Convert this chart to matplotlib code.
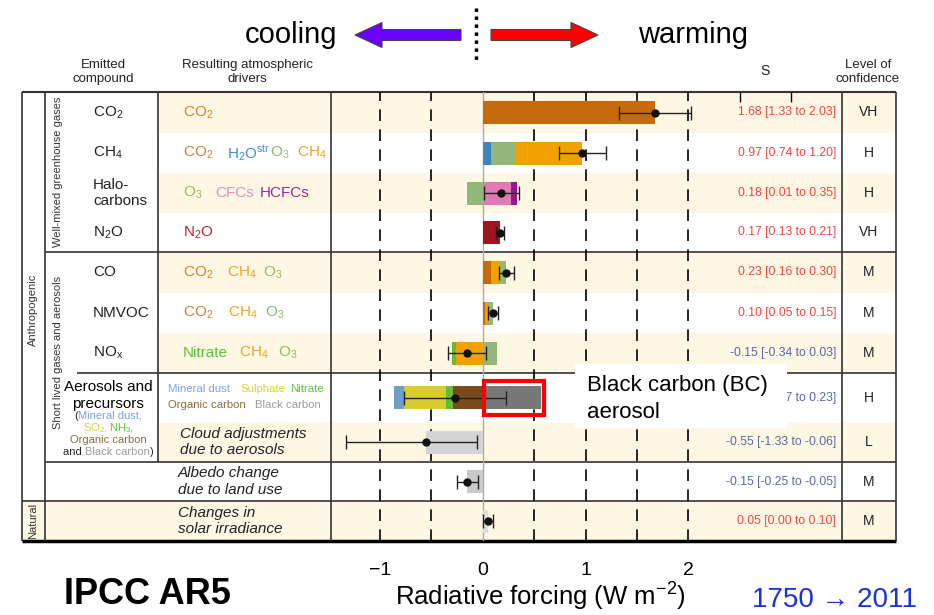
import numpy as np
import matplotlib.pyplot as plt
from matplotlib.patches import Rectangle, FancyArrow

plt.rcParams['font.family'] = ['Liberation Sans', 'DejaVu Sans']
plt.rcParams['mathtext.fontset'] = 'custom'
plt.rcParams['mathtext.rm'] = 'Liberation Sans'
plt.rcParams['mathtext.it'] = 'Liberation Sans:italic'
plt.rcParams['mathtext.bf'] = 'Liberation Sans:bold'
plt.rcParams['mathtext.default'] = 'regular'

# ---- data (W m-2, 1750 -> 2011) ----
emitted = ["CO$_2$", "CH$_4$", "Halo-\ncarbons", "N$_2$O", "CO", "NMVOC", "NO$_\\mathrm{x}$"]
best = np.array([1.68, 0.97, 0.18, 0.17, 0.23, 0.10, -0.15, -0.27, -0.55, -0.15, 0.05])
low = np.array([1.33, 0.74, 0.01, 0.13, 0.16, 0.05, -0.34, -0.77, -1.33, -0.25, 0.00])
high = np.array([2.03, 1.20, 0.35, 0.21, 0.30, 0.15, 0.03, 0.23, -0.06, -0.05, 0.10])
confidence = ["VH", "H", "H", "VH", "M", "M", "M", "H", "L", "M", "M"]

# components stacked outwards from zero
co2_parts = [("CO2", 1.68)]
ch4_parts = [("CO2", 0.015), ("H2Ostr", 0.07), ("O3", 0.24), ("CH4", 0.645)]
halo_parts = [("O3", -0.15), ("CFCs", 0.275), ("HCFCs", 0.055)]
n2o_parts = [("N2O", 0.17)]
co_parts = [("CO2", 0.085), ("CH4", 0.075), ("O3", 0.07)]
nmvoc_parts = [("CO2", 0.025), ("CH4", 0.025), ("O3", 0.05)]
nox_parts = [("CH4", -0.255), ("Nitrate", -0.045), ("O3", 0.135)]
aerosol_parts = [("Organic carbon", -0.285), ("Nitrate", -0.075), ("Sulphate", -0.405),
                 ("Mineral dust", -0.10), ("Black carbon", 0.567)]
cloud_parts = [("Cloud", -0.55)]
albedo_parts = [("Albedo", -0.15)]
solar_parts = [("Solar", 0.05)]
parts = [co2_parts, ch4_parts, halo_parts, n2o_parts, co_parts, nmvoc_parts,
         nox_parts, aerosol_parts, cloud_parts, albedo_parts, solar_parts]

bar_colors = {
    "CO2": "#c66a10", "H2Ostr": "#3a87c0", "O3": "#93b679", "CH4": "#f2a100",
    "CFCs": "#e07ab4", "HCFCs": "#98168c", "N2O": "#a3131d", "Nitrate": "#66ba35",
    "Mineral dust": "#6e9ccb", "Sulphate": "#d7cd2c", "Organic carbon": "#7a4a1b",
    "Black carbon": "#787878", "Cloud": "#d4d4d4", "Albedo": "#c9c9c9", "Solar": "#dcdcdc",
}
label_colors = {
    "CO2": "#d4822e", "H2Ostr": "#3f8fd2", "O3": "#8dbb6e", "CH4": "#f5a21e",
    "CFCs": "#ec8cc3", "HCFCs": "#a02896", "N2O": "#b52630", "Nitrate": "#5cbf3c",
    "Mineral dust": "#7aa3d6", "Sulphate": "#d6d232", "Organic carbon": "#8f6a3c",
    "Black carbon": "#9c9c9c",
}
label_text = {
    "CO2": "CO$_2$", "H2Ostr": "H$_2$O$^{str}$", "O3": "O$_3$", "CH4": "CH$_4$",
    "CFCs": "CFCs", "HCFCs": "HCFCs", "N2O": "N$_2$O", "Nitrate": "Nitrate",
    "Mineral dust": "Mineral dust", "Sulphate": "Sulphate",
    "Organic carbon": "Organic carbon", "Black carbon": "Black carbon",
}

# ---- layout (pixels) ----
W, H = 934, 615
edges = [92, 133, 173, 213, 252, 293, 333, 373, 422, 462, 501, 541]
centers = [(a + b) / 2 for a, b in zip(edges[:-1], edges[1:])]
zero_px, unit_px = 482.7, 102.8
plot_l, plot_r = 331, 842

driver_x = [
    [("CO2", 183)],
    [("CO2", 183), ("H2Ostr", 227), ("O3", 270), ("CH4", 297)],
    [("O3", 183), ("CFCs", 215), ("HCFCs", 260)],
    [("N2O", 183)],
    [("CO2", 183), ("CH4", 227), ("O3", 263)],
    [("CO2", 183), ("CH4", 228), ("O3", 265)],
    [("Nitrate", 183), ("CH4", 239), ("O3", 278)],
]

fig = plt.figure(figsize=(W / 100, H / 100), dpi=100)
bg = fig.add_axes([0, 0, 1, 1], zorder=0)
bg.set_xlim(0, W)
bg.set_ylim(H, 0)
bg.axis('off')
renderer = fig.canvas.get_renderer()


def draw_pieces(ax, x, y, pieces, size, ha='center', **kw):
    texts = []
    widths = []
    for s, c in pieces:
        t = ax.text(0, y, s, color=c, fontsize=size, va='center', ha='left', **kw)
        texts.append(t)
        widths.append(t.get_window_extent(renderer).width)
    start = x - sum(widths) / 2 if ha == 'center' else x
    for t, w in zip(texts, widths):
        t.set_x(start)
        start += w


# shading
for i in [0, 2, 4, 6, 8, 10]:
    x0 = 22 if i == 10 else 158
    bg.add_patch(Rectangle((x0, edges[i]), 896 - x0, edges[i + 1] - edges[i],
                           fc='#fdf7e3', ec='none', zorder=0))

# table lines
lc = '#333333'
bg.hlines(92, 22, 896, color=lc, lw=1.5)
bg.hlines(541, 22, 896, color='k', lw=2.5)
bg.hlines(252, 45, 896, color=lc, lw=1.2)
bg.hlines(373, 77, 896, color=lc, lw=1.2)
bg.hlines(462, 45, 896, color=lc, lw=1.2)
bg.hlines(501, 22, 896, color=lc, lw=1.2)
for x in [22, 45, 331, 842, 896]:
    bg.vlines(x, 92, 541, color=lc, lw=1.2)
bg.vlines(158, 92, 462, color=lc, lw=1.2)

# headers
hdr = dict(fontsize=9.5, ha='center', va='center', color='#222222', linespacing=1.3)
bg.text(103, 72, "Emitted\ncompound", **hdr)
bg.text(247, 72, "Resulting atmospheric\ndrivers", **hdr)
bg.text(765, 71, "S", fontsize=10, ha='center', va='center', color='#222222')
bg.text(868, 72, "Level of\nconfidence", **hdr)

# side labels
side = dict(fontsize=8, rotation=90, ha='center', va='center', color='#333333')
bg.text(33, 310, "Anthropogenic", **side)
bg.text(33, 521, "Natural", **side)
bg.text(58, 172, "Well-mixed greenhouse gases", **side)
bg.text(58, 352, "Short lived gases and aerosols", **side)

# emitted compounds
for i, name in enumerate(emitted):
    bg.text(93, centers[i], name, fontsize=11, ha='left', va='center',
            color='#222222', linespacing=1.15)
bg.text(108, 387, "Aerosols and", fontsize=11, ha='center', va='center')
bg.text(108, 404, "precursors", fontsize=11, ha='center', va='center')
draw_pieces(bg, 108, 416, [("(", "#222222"), ("Mineral dust,", label_colors["Mineral dust"])], 8)
draw_pieces(bg, 108, 428, [("SO$_2$, ", label_colors["Sulphate"]), ("NH$_3$,", label_colors["Nitrate"])], 8)
draw_pieces(bg, 108, 440, [("Organic carbon", label_colors["Organic carbon"])], 8)
draw_pieces(bg, 108, 452, [("and ", "#222222"), ("Black carbon", label_colors["Black carbon"]),
                           (")", "#222222")], 8)

# drivers
for i, row in enumerate(driver_x):
    for key, x in row:
        bg.text(x, centers[i], label_text[key], fontsize=11, ha='left', va='center',
                color=label_colors[key])
for key, x in [("Mineral dust", 168), ("Sulphate", 240), ("Nitrate", 290)]:
    bg.text(x, 389, label_text[key], fontsize=8.2, ha='left', va='center', color=label_colors[key])
for key, x in [("Organic carbon", 168), ("Black carbon", 255)]:
    bg.text(x, 405, label_text[key], fontsize=8.2, ha='left', va='center', color=label_colors[key])
ital = dict(fontsize=11, style='italic', ha='left', va='center', color='#222222', linespacing=1.2)
bg.text(180, centers[8], "Cloud adjustments\ndue to aerosols", **ital)
bg.text(178, centers[9], "Albedo change\ndue to land use", **ital)
bg.text(178, centers[10], "Changes in\nsolar irradiance", **ital)

# values and confidence
for i in range(len(best)):
    col = '#f04545' if best[i] > 0 else '#5a68a8'
    bg.text(836, centers[i], f"{best[i]:.2f} [{low[i]:.2f} to {high[i]:.2f}]",
            fontsize=8.8, ha='right', va='center', color=col)
    bg.text(869, centers[i], confidence[i], fontsize=10, ha='center', va='center', color='#222222')

# top arrows
bg.text(291, 35, "cooling", fontsize=21, ha='center', va='center')
bg.text(693, 35, "warming", fontsize=21, ha='center', va='center')
bg.add_patch(FancyArrow(461, 35, -106, 0, width=11, head_width=25, head_length=27,
                        length_includes_head=True, fc='#6a00ff', ec='#444444', lw=0.8))
bg.add_patch(FancyArrow(491, 35, 107, 0, width=11, head_width=25, head_length=27,
                        length_includes_head=True, fc='#ff0000', ec='#444444', lw=0.8))
bg.plot([476, 476], [8, 60], color='k', lw=2.5, ls=(0, (1, 1.3)))

# bottom texts
bg.text(147, 594, "IPCC AR5", fontsize=26, fontweight='bold', ha='center', va='center')
bg.text(540, 597, "Radiative forcing (W m$^{-2}$)", fontsize=18.5, ha='center', va='center')
bg.text(835, 600, "1750 → 2011", fontsize=20, ha='center', va='center', color='#1a2fe0')

# ---- bar chart ----
ax = fig.add_axes([plot_l / W, (H - 541) / H, (plot_r - plot_l) / W, (541 - 92) / H], zorder=1)
ax.set_facecolor('none')
ax.set_xlim((plot_l - zero_px) / unit_px, (plot_r - zero_px) / unit_px)
ax.set_ylim(541, 92)
for s in ax.spines.values():
    s.set_visible(False)

for g in [-1, -0.5, 0.5, 1, 1.5, 2]:
    ax.axvline(g, color='k', lw=1.2, ls=(0, (7, 5)), zorder=1)
ax.axvline(0, color='#aaaaaa', lw=1, zorder=1)

for i, row in enumerate(parts):
    pos, neg = 0.0, 0.0
    for name, v in row:
        if v >= 0:
            left = pos
            pos += v
        else:
            left = neg + v
            neg += v
        ax.barh(centers[i], abs(v), left=left, height=23, color=bar_colors[name], lw=0, zorder=2)

ax.errorbar(best, centers, xerr=[best - low, high - best], fmt='o', ms=5, color='#111111',
            ecolor='#222222', elinewidth=1, capsize=5, capthick=1, zorder=4)

bc = aerosol_parts[-1][1]
ax.add_patch(Rectangle((0.01, centers[7] - 17), bc + 0.02, 34, fill=False,
                       ec='#ff0000', lw=3, zorder=5))

ax.set_xticks([-1, 0, 1, 2])
ax.set_xticklabels(['−1', '0', '1', '2'], fontsize=14)
ax.tick_params(axis='x', length=0, pad=15)
ax.set_yticks([])

sec = ax.secondary_xaxis('top')
sec.set_xticks([2.5, 3.0])
sec.set_xticklabels(['', ''])
sec.tick_params(direction='in', length=7, width=1)
sec.spines['top'].set_visible(False)

# ---- annotation on top ----
ov = fig.add_axes([0, 0, 1, 1], zorder=2)
ov.set_facecolor('none')
ov.set_xlim(0, W)
ov.set_ylim(H, 0)
ov.axis('off')
ov.add_patch(Rectangle((575, 364), 212, 64, fc='white', ec='none'))
ov.text(587, 385, "Black carbon (BC)", fontsize=16, ha='left', va='center')
ov.text(587, 412, "aerosol", fontsize=16, ha='left', va='center')

fig.savefig("out.png", dpi=100)
